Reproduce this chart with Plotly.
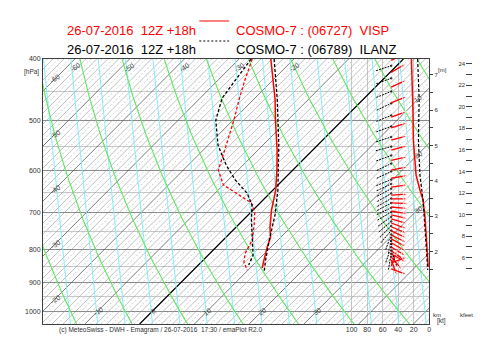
import numpy as np
import plotly.graph_objects as go

# ---------------- data ----------------
visp_T_p = [400, 464, 500, 557, 599, 644, 693, 737, 764, 792, 831, 855]
visp_T = [-24.2, -16.0, -12.2, -6.5, -2.9, 0.5, 3.4, 6.2, 8.1, 9.3, 11.1, 12.2]
visp_Td_p = [400, 432, 464, 500, 547, 599, 632, 656, 675, 698, 731, 772, 810, 837, 861]
visp_Td = [-27.6, -25.1, -22.6, -19.8, -16.7, -13.6, -10.0, -5.1, -1.6, 0.7, 2.9, 5.3, 6.4, 7.8, 9.8]

ilanz_T_p = [400, 464, 547, 644, 705, 772, 831, 868]
ilanz_T = [-23.6, -15.6, -7.1, 0.9, 4.9, 8.4, 11.4, 13.3]
ilanz_Td_p = [400, 424, 461, 500, 547, 588, 621, 651, 680, 718, 772, 816, 846]
ilanz_Td = [-27.8, -27.1, -26.0, -23.1, -18.2, -13.1, -8.7, -4.2, -1.1, 1.5, 5.3, 8.2, 9.2]

visp_ws_p = [400, 432, 482, 537, 610, 644, 668, 711, 753, 801, 852]
visp_ws = [23, 22, 21, 20.5, 17, 12, 8, 5.5, 4, 2.6, 1.3]
ilanz_ws_p = [400, 464, 537, 610, 668, 718, 787, 861]
ilanz_ws = [15, 13, 14, 12, 8, 6, 4, 2]

visp_dir_p = [402, 420, 443, 469, 494, 514, 537, 557, 578, 599, 617, 637, 656,
              665, 675, 685, 695, 705, 715, 726, 736, 747, 758, 769, 780, 792,
              803, 812, 821, 830, 839, 849, 858]
visp_dir = [244, 239, 245, 248, 250, 252, 255, 255, 258, 259, 260, 262, 267,
            270, 272, 275, 280, 283, 287, 290, 293, 295, 297, 298, 300, 302,
            305, 300, 320, 340, 250, 200, 290]
ilanz_dir_p = [410, 429, 450, 470, 491, 511, 531, 550, 568, 585, 602, 620,
               630, 641, 652, 664, 675, 687, 698, 710, 722, 734, 746,
               757, 766, 775, 784, 793, 803, 812]
ilanz_dir = [252, 250, 248, 245, 248, 250, 252, 255, 250, 245, 245, 248,
             245, 242, 240, 240, 242, 245, 240, 235, 230, 225, 220,
             200, 190, 180, 170, 200, 160, 190]

p_major = [400, 500, 600, 700, 800, 900, 1000]
p_minor = [450, 550, 650, 750, 850, 950]
kt_ticks = [0, 20, 40, 60, 80, 100]
km_ticks = [1.5, 2, 2.5, 3, 3.5, 4, 4.5, 5, 5.5, 6, 6.5, 7]
kft_ticks = list(range(5, 25))

isotherm_left_labels = [-60, -50, -40, -30, -20]
isotherm_top_labels = [-60, -50, -40, -30, -20]
isotherm_bottom_labels = [-10, 0, 10, 20, 30]
isotherm_right_labels = [10, 20, 30]

# ---------------- diagram geometry ----------------
SKEW = 50.0
def skx(T, p):
    return np.asarray(T, float) + SKEW * np.log(1000.0 / np.asarray(p, float))

W, H = 500, 350
L, R, T_, B = 43, 10, 59, 26
PW, PH = W - L - R, H - T_ - B
XR = 431
dom = (XR - L) / PW
XMIN, XMAX = -20.0, 50.55
PBOT, PTOP = 1048.0, 400.0
KT_PER_PX = 1 / 0.78
KTMAX = (XR - L) * KT_PER_PX
PX_PER_LNP = 275.0

def pxx(x):
    return (x - L) / PW
def pxy(y):
    return (H - B - y) / PH

fig = go.Figure()
pp = np.exp(np.linspace(np.log(PTOP), np.log(PBOT), 40))

def add_lines(xs_list, ps_list, color, width, dash="solid", xaxis="x"):
    xs, ys = [], []
    for a, b in zip(xs_list, ps_list):
        xs += list(a) + [None]
        ys += list(b) + [None]
    fig.add_trace(go.Scatter(x=xs, y=ys, mode="lines", xaxis=xaxis,
                             line=dict(color=color, width=width, dash=dash),
                             hoverinfo="skip", showlegend=False))

# isotherms
iso_a, iso_b, iso_d = [], [], []
for t in range(-120, 60, 1):
    xs = skx([t, t], [PTOP, PBOT])
    if t % 10 == 0:
        iso_d.append(xs)
    elif t % 2 == 0:
        iso_a.append(xs)
    else:
        iso_b.append(xs)
add_lines(iso_b, [[PTOP, PBOT]] * len(iso_b), "#aaaaaa", 0.6, dash="2px,2px")
add_lines(iso_a, [[PTOP, PBOT]] * len(iso_a), "#959595", 0.6)
add_lines(iso_d, [[PTOP, PBOT]] * len(iso_d), "#5a5a5a", 0.8)
add_lines([skx([0, 0], [PTOP, PBOT])], [[PTOP, PBOT]], "#000000", 1.2)

# cyan guide lines (nearly upright, slight lean)
cy_x = []
for c in range(-15, 55, 5):
    cy_x.append(c - 5.1 * np.log(PBOT / pp))
add_lines(cy_x, [pp] * len(cy_x), "#86eef8", 1.0)

# dry adiabats
dry = []
for th in range(-45, 140, 10):
    Tk = (th + 273.15) * (pp / 1000.0) ** 0.2857 - 273.15
    dry.append(skx(Tk, pp))
add_lines(dry, [pp] * len(dry), "#66e466", 1.1)

# profiles
fig.add_trace(go.Scatter(x=skx(visp_T, visp_T_p), y=visp_T_p, mode="lines",
                         line=dict(color="#ff0000", width=1.5), showlegend=False))
fig.add_trace(go.Scatter(x=skx(visp_Td, visp_Td_p), y=visp_Td_p, mode="lines",
                         line=dict(color="#ff0000", width=1.3, dash="3px,2px"), showlegend=False))
fig.add_trace(go.Scatter(x=skx(ilanz_T, ilanz_T_p), y=ilanz_T_p, mode="lines",
                         line=dict(color="#000000", width=1.3, dash="3px,2px"), showlegend=False))
fig.add_trace(go.Scatter(x=skx(ilanz_Td, ilanz_Td_p), y=ilanz_Td_p, mode="lines",
                         line=dict(color="#000000", width=1.3, dash="3px,2px"), showlegend=False))

# wind speed profiles (kt axis)
fig.add_trace(go.Scatter(x=visp_ws, y=visp_ws_p, xaxis="x2", mode="lines",
                         line=dict(color="#ff0000", width=1.5), showlegend=False))
fig.add_trace(go.Scatter(x=ilanz_ws, y=ilanz_ws_p, xaxis="x2", mode="lines",
                         line=dict(color="#000000", width=1.2, dash="3px,2px"), showlegend=False))

# wind direction arrows (fixed length, common base)
BASE_KT = 49
def arrow_pts(p, d, length, start_at_base):
    u = -np.sin(np.radians(d)) * length
    v = -np.cos(np.radians(d)) * length
    if start_at_base:
        x0, p0 = BASE_KT, p
        x1, p1 = BASE_KT - u * KT_PER_PX, p * np.exp(-v / PX_PER_LNP)
    else:
        x1, p1 = BASE_KT, p
        x0, p0 = BASE_KT + u * KT_PER_PX, p * np.exp(v / PX_PER_LNP)
    return [x0, x1], [p0, p1]

for p, d in zip(ilanz_dir_p, ilanz_dir):
    xs, ps = arrow_pts(p, d, 16, False)
    fig.add_trace(go.Scatter(x=xs, y=ps, xaxis="x2", mode="lines+markers",
                             line=dict(color="#000000", width=1.0, dash="2px,1px"),
                             marker=dict(size=[0, 3.5], color="#000000"),
                             showlegend=False, hoverinfo="skip"))
for p, d in zip(visp_dir_p, visp_dir):
    xs, ps = arrow_pts(p, d, 17, True)
    fig.add_trace(go.Scatter(x=xs, y=ps, xaxis="x2", mode="lines+markers",
                             line=dict(color="#ff0000", width=1.3),
                             marker=dict(symbol=["circle", "arrow"], size=[0, 5],
                                         angleref="previous", color="#ff0000"),
                             showlegend=False, hoverinfo="skip"))

# ---------------- annotations ----------------
ann = []
lab_font = dict(family="Liberation Sans", size=7, color="#404040")
for t in isotherm_left_labels:
    X = XMIN + 12 / (XR - L) * (XMAX - XMIN)
    p = 1000 * np.exp(-(X - t) / SKEW)
    ann.append(dict(x=X, y=np.log10(p), xref="x", yref="y", text=str(t), showarrow=False,
                    font=lab_font, textangle=-35))
for t in isotherm_top_labels:
    p = PTOP * np.exp(8 / PX_PER_LNP)
    ann.append(dict(x=float(skx(t, p)) + 1.4, y=np.log10(p), xref="x", yref="y", text=str(t),
                    showarrow=False, font=lab_font, textangle=-35))
for t in isotherm_bottom_labels:
    ann.append(dict(x=float(skx(t, 1000)), y=3.0, xref="x", yref="y", text=str(t),
                    showarrow=False, font=lab_font, textangle=-35))
for t in isotherm_right_labels:
    X = XMAX - 11 / (XR - L) * (XMAX - XMIN)
    p = 1000 * np.exp(-(X - t) / SKEW)
    ann.append(dict(x=X, y=np.log10(p), xref="x", yref="y", text=str(t), showarrow=False,
                    font=lab_font, textangle=-35))

tfont = dict(family="Liberation Sans", size=13)
small = dict(family="Liberation Sans", size=6.5, color="#303030")
ann += [
    dict(x=pxx(65), y=pxy(21), xref="paper", yref="paper", xanchor="left",
         text="26-07-2016\u00a0\u00a012Z +18h", showarrow=False, font=dict(tfont, color="#ff0000")),
    dict(x=pxx(235), y=pxy(21), xref="paper", yref="paper", xanchor="left",
         text="COSMO-7 : (06727)\u00a0\u00a0VISP", showarrow=False, font=dict(tfont, color="#ff0000")),
    dict(x=pxx(65), y=pxy(40), xref="paper", yref="paper", xanchor="left",
         text="26-07-2016\u00a0\u00a012Z +18h", showarrow=False, font=dict(tfont, color="#000000")),
    dict(x=pxx(235), y=pxy(40), xref="paper", yref="paper", xanchor="left",
         text="COSMO-7 : (06789)\u00a0\u00a0ILANZ", showarrow=False, font=dict(tfont, color="#000000")),
    dict(x=pxx(57), y=pxy(336), xref="paper", yref="paper", xanchor="left",
         text="(c) MeteoSwiss - DWH - Emagram / 26-07-2016\u00a0\u00a017:30 / emaPlot R2.0",
         showarrow=False, font=small),
    dict(x=pxx(41), y=pxy(66), xref="paper", yref="paper", xanchor="right",
         text="[hPa]", showarrow=False, font=small),
    dict(x=pxx(437), y=pxy(327), xref="paper", yref="paper", xanchor="left",
         text="[kt]", showarrow=False, font=small),
    dict(x=pxx(438), y=pxy(65), xref="paper", yref="paper", xanchor="left",
         text="[m]", showarrow=False, font=dict(small, size=6)),
    dict(x=pxx(433), y=pxy(320), xref="paper", yref="paper", xanchor="left",
         text="km", showarrow=False, font=dict(small, size=6)),
    dict(x=pxx(460), y=pxy(320), xref="paper", yref="paper", xanchor="left",
         text="kfeet", showarrow=False, font=dict(small, size=6)),
]

shapes = [
    dict(type="line", xref="paper", yref="paper", x0=pxx(200), x1=pxx(230), y0=pxy(21), y1=pxy(21),
         line=dict(color="#ff0000", width=1)),
    dict(type="line", xref="paper", yref="paper", x0=pxx(200), x1=pxx(230), y0=pxy(41), y1=pxy(41),
         line=dict(color="#000000", width=1, dash="2px,2px")),
]

axfont = dict(family="Liberation Sans", size=7, color="#303030")
fig.update_layout(
    width=W, height=H, margin=dict(l=L, r=R, t=T_, b=B, pad=0),
    paper_bgcolor="white", plot_bgcolor="white",
    annotations=ann, shapes=shapes,
    xaxis=dict(domain=[0, dom], range=[XMIN, XMAX], showticklabels=False, ticks="",
               showgrid=False, zeroline=False, showline=True, mirror=True,
               linecolor="#404040", linewidth=1),
    xaxis2=dict(overlaying="x", anchor="y", side="bottom", range=[KTMAX, 0],
                tickvals=kt_ticks, ticks="", showline=False, zeroline=False,
                showgrid=True, gridcolor="#c8c8c8", gridwidth=0.7, tickfont=axfont),
    yaxis=dict(type="log", range=[np.log10(PBOT), np.log10(PTOP)], tickvals=p_major,
               ticktext=[str(v) for v in p_major], tickfont=axfont, ticks="",
               showgrid=True, gridcolor="#8a8a8a", gridwidth=1, zeroline=False,
               minor=dict(tickvals=p_minor, showgrid=True, gridcolor="#c8c8c8", gridwidth=0.8, ticks=""),
               showline=True, mirror=True, linecolor="#404040", linewidth=1),
    yaxis2=dict(overlaying="y", anchor="free", position=dom, side="right",
                range=[-0.05, 7.45], tickvals=km_ticks,
                ticktext=[str(int(v)) if v == int(v) else "" for v in km_ticks],
                ticks="outside", ticklen=3, tickcolor="#404040", tickfont=dict(axfont, size=6),
                showgrid=False, zeroline=False, showline=False),
    yaxis3=dict(overlaying="y", anchor="free", position=(467 - L) / PW, side="left",
                range=[-0.05 * 3.2808, 7.45 * 3.2808], tickvals=kft_ticks,
                ticktext=[str(v) if v % 2 == 0 else "" for v in kft_ticks],
                ticks="inside", ticklen=6, tickcolor="#404040", tickfont=dict(axfont, size=6),
                showgrid=False, zeroline=False, showline=False),
)
fig.add_trace(go.Scatter(x=[None], y=[None], yaxis="y2", showlegend=False))
fig.add_trace(go.Scatter(x=[None], y=[None], yaxis="y3", showlegend=False))

fig.write_html("out.html")
